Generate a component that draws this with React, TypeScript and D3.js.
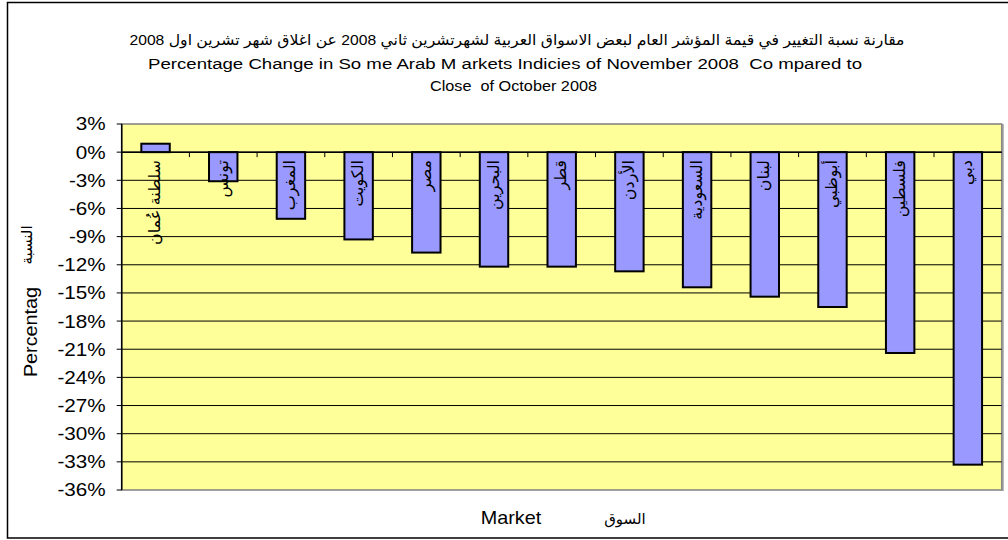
import React from "react";
import * as d3 from "d3";

const titleArabic = "مقارنة نسبة التغيير في قيمة المؤشر العام لبعض الاسواق العربية لشهرتشرين ثاني 2008 عن اغلاق شهر تشرين اول 2008";
const titleEnglish1 = "Percentage Change in So me Arab M arkets Indicies of November 2008  Co mpared to";
const titleEnglish2 = "Close  of October 2008";

const categories = [
  "سلطنة عُمان",
  "تونس",
  "المغرب",
  "الكويت",
  "مصر",
  "البحرين",
  "قطر",
  "الأردن",
  "السعودية",
  "لبنان",
  "أبوظبي",
  "فلسطين",
  "دبي",
];
const values = [0.9, -3.1, -7.1, -9.3, -10.7, -12.2, -12.2, -12.7, -14.4, -15.4, -16.5, -21.4, -33.3];
const yTickValues = [3, 0, -3, -6, -9, -12, -15, -18, -21, -24, -27, -30, -33, -36];

const yTitleEn = "Percentag";
const yTitleAr = "النسبة";
const xTitleEn = "Market";
const xTitleAr = "السوق";

const FONT = "'Liberation Sans', Arial, 'DejaVu Sans', sans-serif";

export default function App() {
  const left = 121.7;
  const right = 1001.7;
  const top = 124;
  const bottom = 490;

  const y = d3.scaleLinear().domain([-36, 3]).range([bottom, top]);
  const x = d3
    .scaleBand<string>()
    .domain(categories)
    .range([left, right])
    .paddingInner(0.58)
    .paddingOuter(0.29);
  const step = x.step();
  const bw = x.bandwidth();
  const y0 = y(0);

  return (
    <div style={{ position: "absolute", left: 0, top: 0 }}>
      <svg width={1008} height={540} style={{ display: "block", background: "#fff" }}>
        {/* outer chart border */}
        <rect x={7.5} y={2.5} width={1010} height={535.5} fill="#fff" stroke="#000" strokeWidth={1.5} />

        {/* titles */}
        <text x={517} y={45} textAnchor="middle" fontFamily={FONT} fontSize={15} fill="#000"
          textLength={775} lengthAdjust="spacingAndGlyphs">{titleArabic}</text>
        <text x={505} y={69} textAnchor="middle" fontFamily={FONT} fontSize={15.5} fill="#000"
          textLength={714} lengthAdjust="spacingAndGlyphs" style={{ whiteSpace: "pre" }}>{titleEnglish1}</text>
        <text x={513.5} y={91} textAnchor="middle" fontFamily={FONT} fontSize={15.5} fill="#000"
          textLength={167} lengthAdjust="spacingAndGlyphs" style={{ whiteSpace: "pre" }}>{titleEnglish2}</text>

        {/* plot area */}
        <rect x={left} y={top} width={right - left} height={bottom - top} fill="#FFFF99" stroke="#808080" strokeWidth={1.5} />
        <line x1={right + 1} x2={right + 1} y1={top} y2={bottom + 1} stroke="#9a9a9a" strokeWidth={2} />

        {/* gridlines */}
        {yTickValues.filter((v) => v < 3 && v > -36).map((v) => (
          <line key={"g" + v} x1={left} x2={right} y1={y(v)} y2={y(v)} stroke="#000" strokeWidth={1} />
        ))}

        {/* bars */}
        {categories.map((c, i) => {
          const v = values[i];
          const yt = Math.min(y(v), y0);
          const h = Math.abs(y(v) - y0);
          return (
            <rect key={"b" + i} x={x(c)} y={yt} width={bw} height={h} fill="#9999FF" stroke="#000" strokeWidth={2} />
          );
        })}

        {/* x axis at zero */}
        <line x1={left} x2={right} y1={y0} y2={y0} stroke="#000" strokeWidth={1.5} />
        {d3.range(1, categories.length).map((i) => (
          <line key={"xt" + i} x1={left + i * step} x2={left + i * step} y1={y0} y2={y0 + 5} stroke="#000" strokeWidth={1} />
        ))}

        {/* y axis */}
        <line x1={left} x2={left} y1={top} y2={bottom} stroke="#000" strokeWidth={1.5} />
        {yTickValues.map((v) => (
          <g key={"yt" + v}>
            <line x1={left - 5} x2={left} y1={y(v)} y2={y(v)} stroke="#000" strokeWidth={1} />
            <text
              transform={`translate(${left - 16},${y(v)}) scale(1.15,1)`}
              textAnchor="end"
              dominantBaseline="central"
              fontFamily={FONT}
              fontSize={18}
              fill="#000"
            >
              {`${v}%`}
            </text>
          </g>
        ))}

        {/* category labels (rotated) */}
        {categories.map((c, i) => {
          const cx = (x(c) as number) + bw / 2 - 1;
          return (
            <text
              key={"cl" + i}
              transform={`translate(${cx},160) rotate(-90)`}
              textAnchor="end"
              dominantBaseline="central"
              fontFamily={FONT}
              fontSize={16}
              fill="#000"
            >
              {c}
            </text>
          );
        })}

        {/* axis titles */}
        <text transform={`translate(31,332) rotate(-90) scale(1.1,1)`} textAnchor="middle" dominantBaseline="central"
          fontFamily={FONT} fontSize={18} fill="#000">{yTitleEn}</text>
        <text transform={`translate(26,245) rotate(-90)`} textAnchor="middle" dominantBaseline="central"
          fontFamily={FONT} fontSize={15} fill="#000">{yTitleAr}</text>
        <text transform={`translate(511,518) scale(1.1,1)`} textAnchor="middle" dominantBaseline="central"
          fontFamily={FONT} fontSize={18} fill="#000">{xTitleEn}</text>
        <text x={625} y={518} textAnchor="middle" dominantBaseline="central"
          fontFamily={FONT} fontSize={15} fill="#000">{xTitleAr}</text>
      </svg>
    </div>
  );
}
